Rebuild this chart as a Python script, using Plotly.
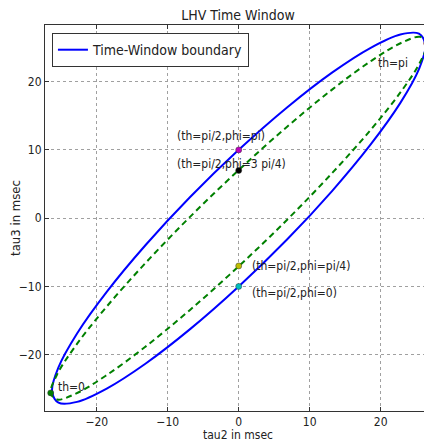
import plotly.graph_objects as go

# Time-window boundary (blue, solid)
blue_x = [26.3, 25.40, 22.78, 18.60, 13.15, 6.81, 0.0, -6.81, -13.15, -18.60, -22.78, -25.40,
          -26.3, -25.40, -22.78, -18.60, -13.15, -6.81, 0.0, 6.81, 13.15, 18.60, 22.78, 25.40, 26.3]
blue_y = [25.29, 27.02, 26.91, 24.96, 21.32, 16.22, 10.01, 3.13, -3.97, -10.80, -16.89, -21.84,
          -25.29, -27.02, -26.91, -24.96, -21.32, -16.22, -10.01, -3.13, 3.97, 10.80, 16.89, 21.84, 25.29]

# Green dashed curve
green_x = [26.5, 25.60, 22.95, 18.74, 13.25, 6.86, 0.0, -6.86, -13.25, -18.74, -22.95, -25.60,
           -26.5, -25.60, -22.95, -18.74, -13.25, -6.86, 0.0, 6.86, 13.25, 18.74, 22.95, 25.60, 26.5]
green_y = [25.61, 26.56, 25.70, 23.09, 18.91, 13.44, 7.05, 0.19, -6.70, -13.12, -18.65, -22.91,
           -25.61, -26.56, -25.70, -23.09, -18.91, -13.44, -7.05, -0.19, 6.70, 13.12, 18.65, 22.91, 25.61]

# Marked points
pt_labels = ["th=0", "th=pi", "(th=pi/2,phi=pi)", "(th=pi/2,phi=3 pi/4)",
             "(th=pi/2,phi=pi/4)", "(th=pi/2,phi=0)"]
pt_x = [-26.5, 26.5, 0.0, 0.0, 0.0, 0.0]
pt_y = [-25.6, 25.6, 10.0, 7.0, -7.0, -10.0]

x_ticks = [-20, -10, 0, 10, 20]
y_ticks = [-20, -10, 0, 10, 20]

pt_colors = ["#008000", "#ff0000", "#bf00bf", "#000000", "#bfbf00", "#00bfbf"]
label_shift = [(5, 6), (-51, -20), (-64, 14), (-64, 6), (11, 0), (11, -7)]

FONT = "DejaVu Sans Condensed, Liberation Sans Narrow, DejaVu Sans, sans-serif"

fig = go.Figure()
fig.add_trace(go.Scatter(x=blue_x, y=blue_y, mode="lines", name="Time-Window boundary",
                         line=dict(color="#0000ff", width=2, shape="spline", smoothing=1.0)))
fig.add_trace(go.Scatter(x=green_x, y=green_y, mode="lines", showlegend=False,
                         line=dict(color="#008000", width=2, dash="6px,4px",
                                   shape="spline", smoothing=1.0)))
fig.add_trace(go.Scatter(x=pt_x, y=pt_y, mode="markers", showlegend=False,
                         marker=dict(color=pt_colors, size=6,
                                     line=dict(color="#333333", width=0.5))))

for lab, x, y, (dx, dy) in zip(pt_labels, pt_x, pt_y, label_shift):
    fig.add_annotation(x=x, y=y, text=lab, showarrow=False, xanchor="left",
                       yanchor="middle", xshift=dx, yshift=dy,
                       font=dict(family=FONT, size=12, color="#222222"))

axis_common = dict(showgrid=True, gridcolor="#a0a0a0", griddash="dot", gridwidth=1,
                   zeroline=False, showline=True, linecolor="#333333", linewidth=1,
                   mirror="ticks", ticks="inside", ticklen=4, tickcolor="#333333",
                   automargin=False,
                   tickfont=dict(family=FONT, size=12, color="#222222"))

fig.update_xaxes(range=[-27.3, 27.1], tickvals=x_ticks,
                 title=dict(text="tau2 in msec", font=dict(family=FONT, size=12, color="#222222"),
                            standoff=2),
                 **axis_common)
fig.update_yaxes(range=[-28.25, 28.3], tickvals=y_ticks,
                 title=dict(text="tau3 in msec", font=dict(family=FONT, size=13, color="#222222"),
                            standoff=8),
                 **axis_common)

# The page body adds an 8px margin, so the figure is 8px smaller on each side
fig.update_layout(
    width=424, height=434,
    margin=dict(l=37, r=1, t=17, b=31),
    paper_bgcolor="white", plot_bgcolor="white",
    title=dict(text="LHV Time Window", x=0.5, xref="paper", xanchor="center",
               y=0.983, yanchor="middle",
               font=dict(family=FONT, size=14, color="#222222")),
    legend=dict(x=0.018, y=0.979, xanchor="left", yanchor="top",
                bgcolor="white", bordercolor="#333333", borderwidth=1,
                font=dict(family=FONT, size=14, color="#222222")),
    showlegend=True,
)

fig.write_html("out.html")
